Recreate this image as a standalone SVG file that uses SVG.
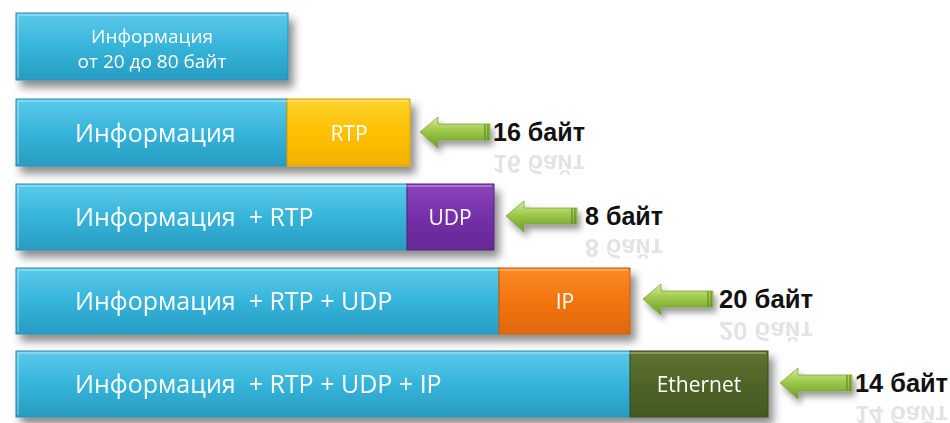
<svg xmlns="http://www.w3.org/2000/svg" xmlns:xlink="http://www.w3.org/1999/xlink" width="950" height="423" viewBox="0 0 950 423">
<defs>
<linearGradient id="gBlue" x1="0" y1="0" x2="0" y2="1"><stop offset="0" stop-color="#5ccaea"/><stop offset="0.5" stop-color="#36b4da"/><stop offset="1" stop-color="#289cc2"/></linearGradient>
<linearGradient id="gYel" x1="0" y1="0" x2="0" y2="1"><stop offset="0" stop-color="#ffd22e"/><stop offset="0.5" stop-color="#ffc000"/><stop offset="1" stop-color="#f0b000"/></linearGradient>
<linearGradient id="gPur" x1="0" y1="0" x2="0" y2="1"><stop offset="0" stop-color="#8a44bc"/><stop offset="0.5" stop-color="#7530a8"/><stop offset="1" stop-color="#652894"/></linearGradient>
<linearGradient id="gOra" x1="0" y1="0" x2="0" y2="1"><stop offset="0" stop-color="#fb8a28"/><stop offset="0.5" stop-color="#f2740f"/><stop offset="1" stop-color="#e06808"/></linearGradient>
<linearGradient id="gGrn" x1="0" y1="0" x2="0" y2="1"><stop offset="0" stop-color="#5f7530"/><stop offset="0.5" stop-color="#4f6428"/><stop offset="1" stop-color="#445822"/></linearGradient>
<linearGradient id="gArr" x1="0" y1="0" x2="0" y2="1"><stop offset="0" stop-color="#d8ec9a"/><stop offset="0.45" stop-color="#9cc84a"/><stop offset="1" stop-color="#6e9a2a"/></linearGradient>
<filter id="sh" x="-10%" y="-20%" width="130%" height="160%"><feDropShadow dx="5" dy="7" stdDeviation="4" flood-color="#000" flood-opacity="0.45"/></filter>
<filter id="sh2" x="-20%" y="-50%" width="150%" height="200%"><feDropShadow dx="3" dy="5" stdDeviation="3" flood-color="#000" flood-opacity="0.4"/></filter>
</defs>
<style>
.bx{stroke-width:1}
.blue{fill:url(#gBlue);stroke:#2690b2}
.yel{fill:url(#gYel);stroke:#d9a200}
.pur{fill:url(#gPur);stroke:#57207f}
.ora{fill:url(#gOra);stroke:#c85c06}
.grn{fill:url(#gGrn);stroke:#3a4b1c}
.hl{fill:none;stroke:#ffffff;stroke-opacity:0.35;stroke-width:1.5}
.t{font-family:"Open Sans","Liberation Sans",sans-serif;fill:#ffffff;font-size:25px;white-space:pre}
.ts{font-family:"Open Sans","Liberation Sans",sans-serif;fill:#ffffff;font-size:19px;text-anchor:middle}
.tc{font-family:"Open Sans","Liberation Sans",sans-serif;fill:#ffffff;font-size:21px;text-anchor:middle}
.lb{font-family:"Liberation Sans","Open Sans",sans-serif;fill:#111111;font-size:25px;font-weight:bold}
.arr{fill:url(#gArr);stroke:#7ea23a;stroke-width:0.8}
.tail{stroke:#5f8a22;stroke-width:1.2}
</style>

<g id="node-info" filter="url(#sh)">
<rect class="bx blue" x="16" y="13" width="272" height="67"/>
<path class="hl" d="M18 78 V15 H286"/>
<text class="ts" x="152" y="43">Информация</text>
<text class="ts" x="152" y="68">от 20 до 80 байт</text>
</g>

<g id="row-rtp" filter="url(#sh)">
<rect class="bx blue" x="16" y="99" width="271" height="67"/>
<rect class="bx yel" x="287" y="99" width="123" height="67"/>
<path class="hl" d="M18 164 V101 H408"/>
<text class="t" x="75" y="142">Информация</text>
<text class="tc" x="349" y="141">RTP</text>
</g>

<g id="row-udp" filter="url(#sh)">
<rect class="bx blue" x="16" y="184" width="391" height="66"/>
<rect class="bx pur" x="407" y="184" width="87" height="66"/>
<path class="hl" d="M18 248 V186 H492"/>
<text class="t" x="75" y="226" xml:space="preserve">Информация  + RTP</text>
<text class="tc" x="450" y="225">UDP</text>
</g>

<g id="row-ip" filter="url(#sh)">
<rect class="bx blue" x="16" y="268" width="483" height="66"/>
<rect class="bx ora" x="499" y="268" width="131" height="66"/>
<path class="hl" d="M18 332 V270 H628"/>
<text class="t" x="75" y="310" xml:space="preserve">Информация  + RTP + UDP</text>
<text class="tc" x="565" y="309">IP</text>
</g>

<g id="row-eth" filter="url(#sh)">
<rect class="bx blue" x="16" y="351" width="614" height="66"/>
<rect class="bx grn" x="630" y="351" width="138" height="66"/>
<path class="hl" d="M18 415 V353 H766"/>
<text class="t" x="75" y="393" xml:space="preserve">Информация  + RTP + UDP + IP</text>
<text class="tc" x="699" y="392">Ethernet</text>
</g>

<g id="connectors">
<g filter="url(#sh2)">
<path class="arr" d="M420 132 L438 117 L438 124 L490 124 L490 140 L438 140 L438 148 Z"/>
<path class="arr" d="M506 216 L524 201 L524 208 L577 208 L577 224 L524 224 L524 232 Z"/>
<path class="arr" d="M643 299 L661 284 L661 291 L713 291 L713 307 L661 307 L661 315 Z"/>
<path class="arr" d="M780 383 L798 368 L798 375 L852 375 L852 391 L798 391 L798 399 Z"/>
</g>
<path class="tail" d="M485 124 V140 M488 124 V140 M572 208 V224 M575 208 V224 M708 291 V307 M711 291 V307 M847 375 V391 M850 375 V391"/>
</g>

<g id="labels">
<text id="l1" class="lb" x="493" y="141" textLength="92" lengthAdjust="spacingAndGlyphs">16 байт</text>
<text id="l2" class="lb" x="585" y="225" textLength="78" lengthAdjust="spacingAndGlyphs">8 байт</text>
<text id="l3" class="lb" x="719" y="308" textLength="94" lengthAdjust="spacingAndGlyphs">20 байт</text>
<text id="l4" class="lb" x="855" y="392" textLength="93" lengthAdjust="spacingAndGlyphs">14 байт</text>
<g opacity="0.12">
<use xlink:href="#l1" transform="translate(0,296) scale(1,-1)"/>
<use xlink:href="#l2" transform="translate(0,464) scale(1,-1)"/>
<use xlink:href="#l3" transform="translate(0,630) scale(1,-1)"/>
<use xlink:href="#l4" transform="translate(0,798) scale(1,-1)"/>
</g>
</g>
</svg>
